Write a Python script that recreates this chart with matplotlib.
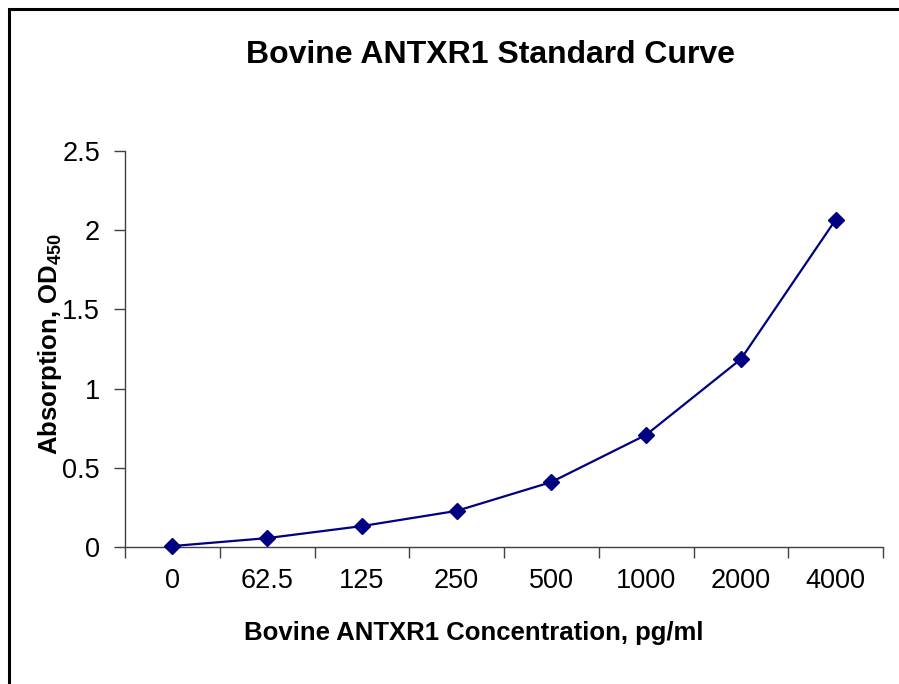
import matplotlib
matplotlib.use("Agg")
import matplotlib.pyplot as plt
from matplotlib.patches import Rectangle

categories = ["0", "62.5", "125", "250", "500", "1000", "2000", "4000"]
absorbance = [0.006, 0.056, 0.132, 0.228, 0.410, 0.708, 1.186, 2.066]

plt.rcParams['font.family'] = ['Liberation Sans', 'DejaVu Sans']
plt.rcParams['mathtext.fontset'] = 'custom'
plt.rcParams['mathtext.rm'] = 'Liberation Sans:bold'
plt.rcParams['mathtext.bf'] = 'Liberation Sans:bold'
plt.rcParams['mathtext.default'] = 'bf'

W, H = 899, 684
fig = plt.figure(figsize=(W / 100, H / 100), dpi=100)
fig.patch.set_facecolor('white')

# outer frame (cut at right and bottom)
fig.add_artist(Rectangle((9 / W, -0.1), 1.2, 1 - 9 / H + 0.1, transform=fig.transFigure,
                         fill=False, edgecolor='black', linewidth=2.2))

ax = fig.add_axes([125 / W, 1 - 547 / H, (883 - 125) / W, (547 - 151) / H])
x = list(range(len(categories)))
ax.plot(x, absorbance, color='#000080', linewidth=1.6, marker='D', markersize=8.5,
        markerfacecolor='#000080', markeredgecolor='#000080', clip_on=False, zorder=3)

ax.set_xlim(-0.5, len(categories) - 0.5)
ax.set_ylim(0, 2.5)
ax.set_yticks([0, 0.5, 1, 1.5, 2, 2.5])
ax.set_yticklabels(["0", "0.5", "1", "1.5", "2", "2.5"])
ax.set_xticks([i - 0.5 for i in range(len(categories) + 1)])
ax.set_xticklabels([])
ax.set_xticks(x, minor=True)
ax.set_xticklabels(categories, minor=True)
ax.tick_params(axis='x', which='major', direction='out', length=8, width=1, color='#404040')
ax.tick_params(axis='x', which='minor', length=0, labelsize=19.5, pad=15)
ax.tick_params(axis='y', direction='out', length=8, width=1, color='#404040', labelsize=19.5, pad=10)

for s in ['top', 'right']:
    ax.spines[s].set_visible(False)
for s in ['left', 'bottom']:
    ax.spines[s].set_color('#404040')
    ax.spines[s].set_linewidth(1)

fig.text(490 / W, 1 - 55 / H, "Bovine ANTXR1 Standard Curve", ha='center', va='center',
         fontsize=23, fontweight='bold')
fig.text(474 / W, 1 - 633 / H, "Bovine ANTXR1 Concentration, pg/ml", ha='center', va='center',
         fontsize=18.5, fontweight='bold')
fig.text(50 / W, 1 - 344 / H, r"Absorption, OD$_{450}$", ha='center', va='center',
         rotation=90, fontsize=18.5, fontweight='bold')

fig.savefig("out.png", dpi=100, facecolor='white')
